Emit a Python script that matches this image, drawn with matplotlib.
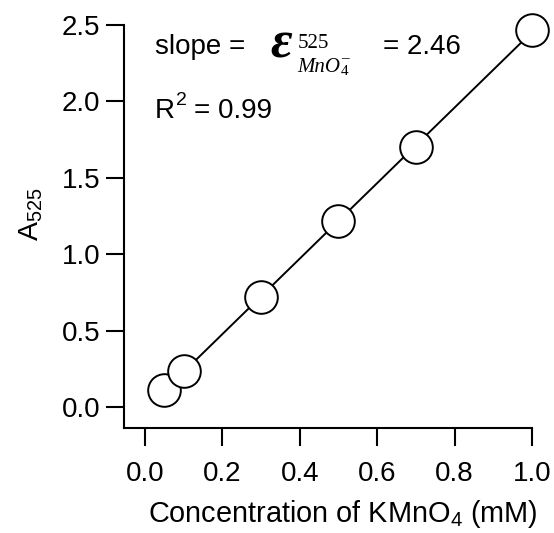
import matplotlib
matplotlib.use("Agg")
import matplotlib.pyplot as plt
import numpy as np

matplotlib.rcParams.update({
    'font.family': ['Liberation Sans', 'DejaVu Sans'],
    'font.size': 20,
    'mathtext.fontset': 'custom',
    'mathtext.rm': 'Liberation Sans',
    'mathtext.it': 'Liberation Sans:italic',
})

# KMnO4 calibration, absorbance at 525 nm
conc = [0.05, 0.1, 0.3, 0.5, 0.7, 1.0]
absorb = [0.11, 0.235, 0.72, 1.215, 1.70, 2.465]
x_ticks = [0.0, 0.2, 0.4, 0.6, 0.8, 1.0]
y_ticks = [0.0, 0.5, 1.0, 1.5, 2.0, 2.5]

W, H = 554, 533
fig = plt.figure(figsize=(W / 100, H / 100), dpi=100)
ax = fig.add_axes([124 / W, 1 - 428 / H, (532 - 124) / W, (428 - 25) / H])

slope, icpt = np.polyfit(conc, absorb, 1)
xf = np.array([conc[0], conc[-1]])
ax.plot(xf, slope * xf + icpt, color="black", lw=1.4, zorder=2)
ax.plot(conc, absorb, "o", ms=23.5, mfc="white", mec="black", mew=1.4,
        clip_on=False, zorder=3)

ax.set_xlim(-0.054, 1.0)
ax.set_ylim(-0.137, 2.5)
ax.set_xticks(x_ticks)
ax.set_yticks(y_ticks)
ax.set_xticklabels([f"{v:.1f}" for v in x_ticks])
ax.set_yticklabels([f"{v:.1f}" for v in y_ticks])
ax.tick_params(direction="out", length=13, width=1.5)
ax.tick_params(axis="x", pad=11)
ax.tick_params(axis="y", pad=4)
for s in ["top", "right"]:
    ax.spines[s].set_visible(False)
for s in ["left", "bottom"]:
    ax.spines[s].set_linewidth(1.5)

ax.set_xlabel(r"Concentration of KMnO$_4$ (mM)", fontsize=20.8, labelpad=8)
ax.set_ylabel(r"A$_{525}$", fontsize=20.5, labelpad=12)
ax.xaxis.label.set_x(0.535)
ax.yaxis.label.set_y(0.53)

def px(x, y):
    return x / W, 1 - y / H

fig.text(*px(155, 54), "slope =", ha="left", va="baseline")
fig.text(*px(270, 58), "\u03b5", family="Liberation Serif", fontsize=38,
         fontweight="bold", style="italic", ha="left", va="baseline")
fig.text(*px(298, 48), "525", family="Liberation Serif", fontsize=15,
         ha="left", va="baseline")
fig.text(*px(297, 72), "MnO", family="Liberation Serif", fontsize=15,
         style="italic", ha="left", va="baseline")
fig.text(*px(341, 75), "4", family="Liberation Serif", fontsize=11,
         ha="left", va="baseline")
fig.text(*px(341, 62), "\u2013", family="Liberation Serif", fontsize=11,
         ha="left", va="baseline")
fig.text(*px(383, 54), "= 2.46", ha="left", va="baseline")
fig.text(*px(155, 118), "R", ha="left", va="baseline")
fig.text(*px(176, 105), "2", fontsize=14, ha="left", va="baseline")
fig.text(*px(194, 118), "= 0.99", ha="left", va="baseline")

fig.savefig("out.png", dpi=100)
